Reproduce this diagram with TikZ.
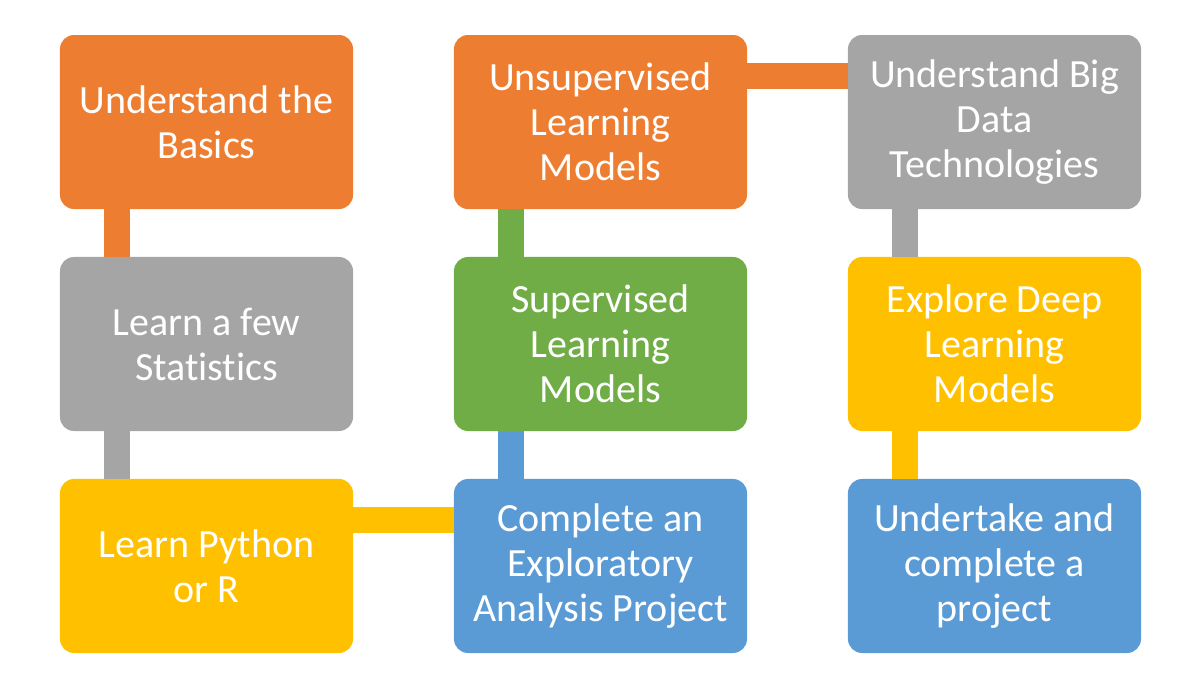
\documentclass[tikz,border=0pt]{standalone}
\usepackage{fontspec}
\setmainfont{Carlito}[Ligatures=NoCommon]
\usetikzlibrary{positioning}
\definecolor{orng}{HTML}{ED7D31}
\definecolor{gry}{HTML}{A5A5A5}
\definecolor{ylw}{HTML}{FFC000}
\definecolor{blu}{HTML}{5B9BD5}
\definecolor{grn}{HTML}{70AD47}

\begin{document}
\begin{tikzpicture}[
box/.style={rectangle,rounded corners=14pt,minimum width=293pt,minimum height=174pt,
    inner sep=0pt,anchor=center,align=center,text=white,font=\fontsize{40}{45}\selectfont},
bar/.style={line width=26pt}]
\useasboundingbox (0,0) rectangle (1200pt,686pt);
\matrix (steps) at (600.5pt,342pt) [row sep=48pt,column sep=101pt] {
\node (basics) [box,fill=orng] {Understand the\\Basics};
&
\node (unsup) [box,fill=orng] {Unsupervised\\Learning\\Models};
&
\node (bigdata) [box,fill=gry] {Understand Big\\Data\\Technologies};
\\
\node (stats) [box,fill=gry] {Learn a few\\Statistics};
&
\node (sup) [box,fill=grn] {Supervised\\Learning\\Models};
&
\node (deep) [box,fill=ylw] {Explore Deep\\Learning\\Models};
\\
\node (python) [box,fill=ylw] {Learn Python\\or R};
&
\node (eda) [box,fill=blu] {Complete an\\Exploratory\\Analysis Project};
&
\node (project) [box,fill=blu] {Undertake and\\complete a\\project};
\\
};
% connecting bars
\draw [bar,orng] ([xshift=57pt]basics.south west) -- ([xshift=57pt]stats.north west);
\draw [bar,gry] ([xshift=57pt]stats.south west) -- ([xshift=57pt]python.north west);
\draw [bar,ylw] ([yshift=-41.5pt]python.north east) -- ([yshift=-41.5pt]eda.north west);
\draw [bar,blu] ([xshift=57pt]eda.north west) -- ([xshift=57pt]sup.south west);
\draw [bar,grn] ([xshift=57pt]sup.north west) -- ([xshift=57pt]unsup.south west);
\draw [bar,orng] ([yshift=-41pt]unsup.north east) -- ([yshift=-41pt]bigdata.north west);
\draw [bar,gry] ([xshift=57pt]bigdata.south west) -- ([xshift=57pt]deep.north west);
\draw [bar,ylw] ([xshift=57pt]deep.south west) -- ([xshift=57pt]project.north west);
\end{tikzpicture}
\end{document}
